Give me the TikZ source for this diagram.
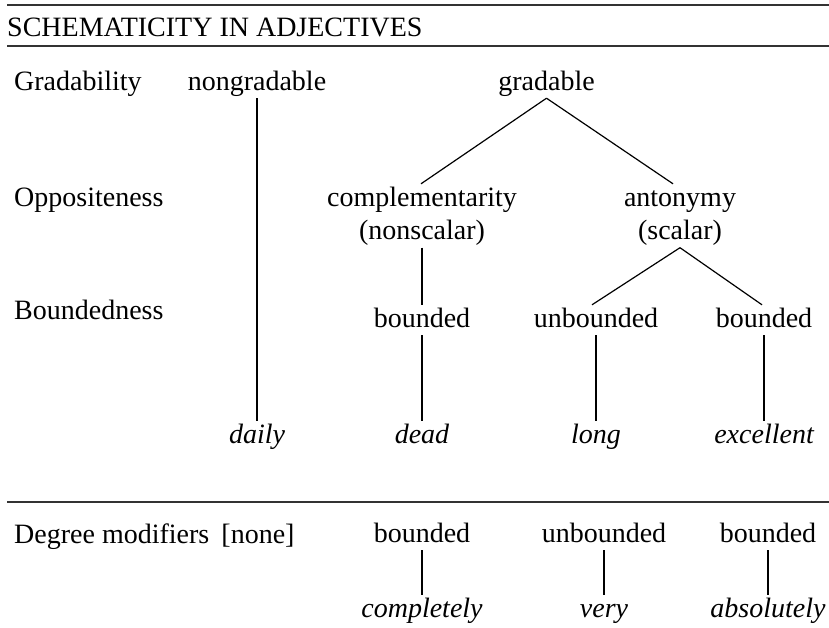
\documentclass[tikz,border=0pt]{standalone}
\usepackage{fontspec}
\setmainfont{Liberation Serif}
\begin{document}
\begin{tikzpicture}[x=1pt,y=-1pt,
  every node/.style={font=\fontsize{28}{34}\selectfont, inner sep=2pt,
    text height=20pt, text depth=6pt, anchor=base},
  lab/.style={anchor=base west},
  ex/.style={font=\fontsize{28}{34}\selectfont\itshape},
  branch/.style={line width=1.2pt, black},
  rulestyle/.style={line width=2pt, black!80}]
\useasboundingbox (0,0) rectangle (829,627);

% rules
\coordinate (r1a) at (7,5);   \coordinate (r1b) at (829,5);
\coordinate (r2a) at (7,46);  \coordinate (r2b) at (829,46);
\coordinate (r3a) at (7,501.5); \coordinate (r3b) at (829,501.5);
\draw[rulestyle] (r1a) -- (r1b);
\draw[rulestyle] (r2a) -- (r2b);
\draw[rulestyle] (r3a) -- (r3b);

\node[anchor=base west, inner sep=0pt] (title) at (7,36) {SCHEMATICITY IN ADJECTIVES};

% left labels
\node[lab, inner sep=0pt] (lgrad) at (14,90) {Gradability};
\node[lab, inner sep=0pt] (lopp) at (14,206) {Oppositeness};
\node[lab, inner sep=0pt] (lbound) at (14,319) {Boundedness};
\node[lab, inner sep=0pt] (ldeg) at (14,543) {Degree modifiers};

% tree
\node (nongrad) at (257,90) {nongradable};
\node (grad) at (546.5,90) {gradable};
\node (comp) at (422,206) {complementarity};
\node (nonsc) at (422,239.5) {(nonscalar)};
\node (anto) at (680,206) {antonymy};
\node (scal) at (680,239.5) {(scalar)};
\node (bd1) at (422,327) {bounded};
\node (ub) at (596,327) {unbounded};
\node (bd2) at (764,327) {bounded};
\node[ex] (daily) at (257,443) {daily};
\node[ex] (dead) at (422,443) {dead};
\node[ex] (long) at (596,443) {long};
\node[ex] (exc) at (764,443) {excellent};

\draw[branch] (nongrad.south) -- (daily.north);
\draw[branch] (grad.south) -- ([xshift=-1pt]comp.north);
\draw[branch] (grad.south) -- ([xshift=-7pt]anto.north);
\draw[branch] (nonsc.south) -- (bd1.north);
\draw[branch] (scal.south) -- ([xshift=-4pt]ub.north);
\draw[branch] (scal.south) -- ([xshift=-2pt]bd2.north);
\draw[branch] (bd1.south) -- (dead.north);
\draw[branch] (ub.south) -- (long.north);
\draw[branch] (bd2.south) -- (exc.north);

% degree modifiers
\node (none) at (258,543) {[none]};
\node (mbd1) at (422,542) {bounded};
\node (mub) at (604,542) {unbounded};
\node (mbd2) at (768,542) {bounded};
\node[ex] (compl) at (422,617) {completely};
\node[ex] (very) at (604,617) {very};
\node[ex] (abs) at (768,617) {absolutely};

\draw[branch] (mbd1.south) -- (compl.north);
\draw[branch] (mub.south) -- (very.north);
\draw[branch] (mbd2.south) -- (abs.north);
\end{tikzpicture}
\end{document}
